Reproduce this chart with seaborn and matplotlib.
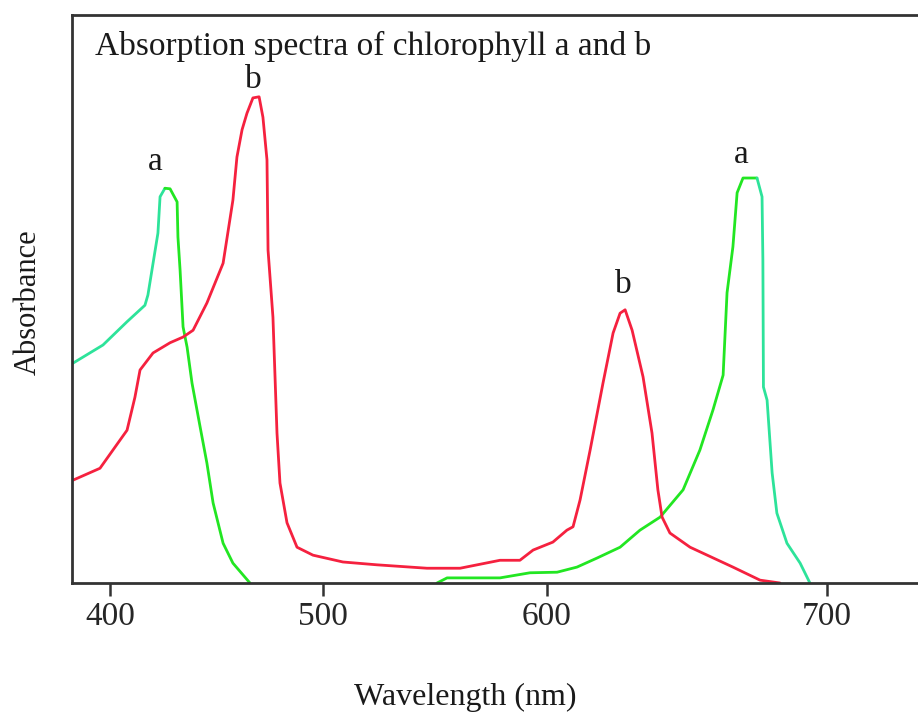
import numpy as np
import pandas as pd
import matplotlib
matplotlib.use("Agg")
import matplotlib.pyplot as plt
import seaborn as sns

# ---------------- data ----------------
chl_a_wl = [382.6, 396.7, 408.0, 416.4, 417.8, 419.7, 422.5, 423.5, 425.8, 428.2,
            431.5, 431.9, 432.9, 434.3, 436.2, 438.5, 442.3, 445.5, 448.4, 453.1,
            457.7, 465.7, 550.9, 555.4, 579.0, 592.4, 603.6, 610.7, 617.9, 626.1,
            633.2, 640.4, 648.6, 654.6, 659.3, 662.9, 664.3, 666.4, 667.9, 670.0,
            675.0, 676.8, 677.1, 677.3, 678.6, 680.4, 682.1, 685.7, 690.4, 693.9]
chl_a_abs = [0.387, 0.419, 0.460, 0.489, 0.507, 0.551, 0.616, 0.680, 0.695, 0.694,
             0.671, 0.609, 0.551, 0.451, 0.415, 0.352, 0.275, 0.211, 0.141, 0.070,
             0.035, 0.000, 0.000, 0.009, 0.009, 0.018, 0.019, 0.028, 0.044, 0.063,
             0.093, 0.116, 0.164, 0.234, 0.305, 0.366, 0.511, 0.592, 0.687, 0.713,
             0.713, 0.680, 0.569, 0.345, 0.322, 0.194, 0.123, 0.070, 0.035, 0.000]

chl_b_wl = [382.6, 395.3, 408.0, 411.7, 414.1, 420.2, 428.2, 434.3, 439.0, 445.5,
            453.1, 457.7, 459.6, 462.0, 464.3, 467.1, 470.0, 471.8, 473.7, 474.2,
            476.5, 478.4, 479.8, 483.1, 487.8, 495.3, 508.9, 524.1, 546.4, 561.2,
            579.0, 587.9, 593.8, 602.1, 607.1, 609.3, 611.8, 615.4, 620.0, 623.6,
            626.1, 627.9, 630.4, 634.3, 637.5, 639.6, 641.1, 643.9, 651.1, 666.4,
            676.1, 683.2]
chl_b_abs = [0.181, 0.202, 0.269, 0.327, 0.375, 0.405, 0.423, 0.433, 0.445, 0.493,
             0.563, 0.674, 0.750, 0.798, 0.827, 0.854, 0.856, 0.820, 0.745, 0.586,
             0.468, 0.264, 0.176, 0.106, 0.063, 0.049, 0.037, 0.032, 0.026, 0.026,
             0.040, 0.040, 0.058, 0.072, 0.093, 0.099, 0.146, 0.234, 0.352, 0.440,
             0.475, 0.481, 0.445, 0.363, 0.264, 0.164, 0.116, 0.088, 0.063, 0.028,
             0.005, 0.000]

x_ticks = [400, 500, 600, 700]
title_text = "Absorption spectra of chlorophyll a and b"
x_label = "Wavelength (nm)"
y_label = "Absorbance"

# ------------- axis calibration (non-uniform wavelength axis) -------------
cal_wl = np.array([400.0, 500.0, 600.0, 700.0])
cal_pos = np.array([110.0, 323.0, 547.0, 827.0])
s_lo = (cal_pos[1] - cal_pos[0]) / (cal_wl[1] - cal_wl[0])
s_hi = (cal_pos[-1] - cal_pos[-2]) / (cal_wl[-1] - cal_wl[-2])


def fwd(x):
    x = np.asarray(x, dtype=float)
    y = np.interp(x, cal_wl, cal_pos)
    y = np.where(x < cal_wl[0], cal_pos[0] + (x - cal_wl[0]) * s_lo, y)
    y = np.where(x > cal_wl[-1], cal_pos[-1] + (x - cal_wl[-1]) * s_hi, y)
    return y


def inv(p):
    p = np.asarray(p, dtype=float)
    x = np.interp(p, cal_pos, cal_wl)
    x = np.where(p < cal_pos[0], cal_wl[0] + (p - cal_pos[0]) / s_lo, x)
    x = np.where(p > cal_pos[-1], cal_wl[-1] + (p - cal_pos[-1]) / s_hi, x)
    return x


# ---------------- style ----------------
sns.set_style("white")
plt.rcParams["font.family"] = ["Liberation Serif", "DejaVu Serif"]
plt.rcParams["text.color"] = "#1a1a1a"

RED = "#f5213f"
GREEN = "#22e622"
TEAL = "#2de39a"
SPINE = "#333333"
LW = 2.0

fig = plt.figure(figsize=(9.18, 7.19), dpi=100)
W, H = 918, 719
ax = fig.add_axes([72 / W, (H - 583) / H, (930 - 72) / W, 568 / H])
ax.set_xscale("function", functions=(fwd, inv))

# chlorophyll a drawn in tinted pieces split at its two peaks;
# the stretch lying on the baseline is left to the axis line
a = pd.DataFrame({"wl": chl_a_wl, "abs": chl_a_abs})
i1 = a[a.wl < 500]["abs"].idxmax()
i2 = a[a.wl > 600]["abs"].idxmax()
zeros = a.index[(a["abs"] == 0) & (a.index > i1) & (a.index < i2)]
z0, z1 = zeros.min(), zeros.max()
pieces = [(a.loc[:i1], TEAL), (a.loc[i1:z0], GREEN), (a.loc[z1:i2 + 1], GREEN),
          (a.loc[i2 + 1:], TEAL)]
for piece, col in pieces:
    sns.lineplot(data=piece, x="wl", y="abs", ax=ax, color=col, lw=LW,
                 sort=False, estimator=None)

b = pd.DataFrame({"wl": chl_b_wl, "abs": chl_b_abs})
sns.lineplot(data=b, x="wl", y="abs", ax=ax, color=RED, lw=LW,
             sort=False, estimator=None)

ax.set_xlim(inv(72), inv(930))
ax.set_ylim(0, 1.0)
ax.set_xticks(x_ticks)
ax.set_xticklabels([str(t) for t in x_ticks])
ax.set_yticks([])
ax.minorticks_off()
ax.tick_params(axis="x", direction="out", length=9, width=1.8, color=SPINE,
               labelsize=24, pad=4, bottom=True)
ax.set_xlabel("")
ax.set_ylabel("")
for sp in ["left", "top", "bottom", "right"]:
    ax.spines[sp].set_color(SPINE)
    ax.spines[sp].set_linewidth(2.0)
    ax.spines[sp].set_zorder(5)

# peak labels
blue_b = b[b.wl < 500]["abs"].idxmax()
red_b = b[b.wl > 600]["abs"].idxmax()
peak_labels = [
    ("a", a.loc[i1], (-7, 13)),
    ("b", b.loc[blue_b], (-4, 6)),
    ("b", b.loc[red_b], (-1, 12)),
    ("a", a.loc[i2], (-1, 11)),
]
for txt, row, off in peak_labels:
    ax.annotate(txt, (row["wl"], row["abs"]), xytext=off, textcoords="offset points",
                ha="center", va="baseline", fontsize=24)

ax.text(23 / 858, 0.930, title_text, transform=ax.transAxes, fontsize=24,
        ha="left", va="baseline")

fig.text(465 / W, 1 - 697 / H, x_label, fontsize=23, ha="center", va="center")
fig.text(28 / W, 1 - 302 / H, y_label, fontsize=22, ha="center", va="center",
         rotation=90)

fig.savefig("out.png", dpi=100, facecolor="white")
